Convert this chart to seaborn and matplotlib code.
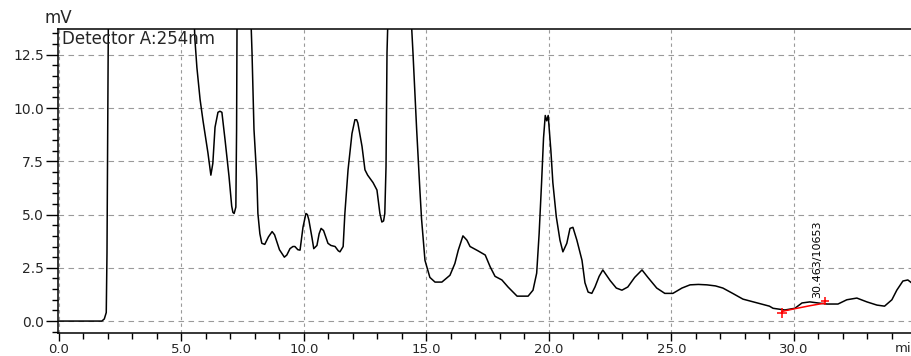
import numpy as np
import pandas as pd
import seaborn as sns
import matplotlib.pyplot as plt
from matplotlib.ticker import MultipleLocator, FormatStrFormatter

sns.set_style("white")
plt.rcParams['font.family'] = ['DejaVu Sans']

# chromatogram trace (min, mV); off-scale peaks are guesses
time_min = [0.0, 1.0, 1.75, 1.85, 1.93, 1.96, 1.99, 2.02, 2.1, 2.5, 3.5, 5.0, 5.45,
            5.55, 5.63, 5.76, 5.88, 5.96, 6.08, 6.2, 6.28, 6.37, 6.49, 6.57, 6.65,
            6.78, 6.94, 7.05, 7.1, 7.15, 7.22, 7.25, 7.27, 7.35, 7.6, 7.8, 7.84,
            7.88, 7.96, 8.08, 8.12, 8.2, 8.28, 8.4, 8.55, 8.7, 8.8, 9.0, 9.2, 9.3,
            9.43, 9.55, 9.63, 9.75, 9.84, 9.96, 10.08, 10.14, 10.2, 10.33, 10.4,
            10.53, 10.62, 10.7, 10.8, 10.98, 11.1, 11.27, 11.4, 11.47, 11.6, 11.67,
            11.8, 11.96, 12.08, 12.15, 12.2, 12.37, 12.49, 12.6, 12.82, 12.98, 13.1,
            13.18, 13.25, 13.3, 13.35, 13.39, 13.45, 13.6, 14.0, 14.35, 14.4, 14.45,
            14.6, 14.73, 14.8, 14.94, 15.14, 15.35, 15.63, 15.96, 16.16, 16.3,
            16.49, 16.65, 16.78, 17.1, 17.4, 17.6, 17.8, 18.08, 18.33, 18.7, 19.15,
            19.35, 19.5, 19.6, 19.7, 19.78, 19.85, 19.91, 19.97, 20.08, 20.16, 20.3,
            20.45, 20.57, 20.73, 20.86, 20.98, 21.14, 21.35, 21.47, 21.6, 21.75,
            21.88, 22.05, 22.2, 22.35, 22.5, 22.75, 22.98, 23.22, 23.5, 23.8, 24.04,
            24.4, 24.73, 25.06, 25.43, 25.76, 26.1, 26.45, 26.8, 27.1, 27.5, 27.92,
            28.5, 29.0, 29.15, 29.63, 30.04, 30.33, 30.65, 30.98, 31.35, 31.8,
            32.16, 32.57, 32.98, 33.39, 33.7, 34.0, 34.2, 34.45, 34.65, 34.8, 35.0]
signal_mv = [0.0, 0.0, 0.0, 0.1, 0.4, 3.2, 9.0, 15.0, 40.0, 60.0, 45.0, 30.0, 16.0,
             13.2, 11.9, 10.4, 9.4, 8.8, 7.9, 6.85, 7.4, 9.1, 9.8, 9.85, 9.8,
             8.5, 6.8, 5.4, 5.1, 5.05, 5.35, 9.0, 14.5, 40.0, 50.0, 20.0, 14.0,
             12.6, 9.0, 6.6, 5.05, 4.1, 3.65, 3.6, 3.95, 4.2, 4.05, 3.35, 3.0, 3.1,
             3.4, 3.5, 3.5, 3.35, 3.33, 4.4, 5.05, 5.0, 4.75, 3.9, 3.4,
             3.55, 4.1, 4.35, 4.25, 3.65, 3.55, 3.5, 3.3, 3.25, 3.5, 5.05,
             7.1, 8.8, 9.45, 9.45, 9.3, 8.2, 7.1, 6.85, 6.5, 6.15, 5.05,
             4.65, 4.7, 5.05, 7.25, 12.6, 15.0, 40.0, 60.0, 16.0, 13.7, 12.6,
             9.0, 6.2, 4.8, 2.85, 2.05, 1.83, 1.83, 2.15, 2.7, 3.33,
             4.0, 3.8, 3.5, 3.3, 3.1, 2.55, 2.1, 1.93, 1.6, 1.17, 1.17,
             1.45, 2.25, 4.1, 6.5, 8.6, 9.65, 9.4, 9.65, 8.0, 6.5, 4.9,
             3.8, 3.25, 3.65, 4.35, 4.4, 3.8, 2.85, 1.8, 1.36, 1.3,
             1.6, 2.1, 2.4, 2.15, 1.9, 1.55, 1.45, 1.6, 2.05, 2.4, 2.05,
             1.55, 1.3, 1.3, 1.55, 1.7, 1.72, 1.7, 1.65, 1.55, 1.3, 1.03,
             0.85, 0.7, 0.6, 0.52, 0.6, 0.85, 0.9, 0.85, 0.8, 0.8,
             1.0, 1.08, 0.9, 0.75, 0.7, 1.0, 1.45, 1.88, 1.93, 1.8, 1.6]

# integration baseline of the labelled peak
base_time = [29.5, 30.04, 30.65, 31.25]
base_mv = [0.45, 0.58, 0.72, 0.84]
peak_label = "30.463/10653"

df = pd.DataFrame({'t': time_min, 'mv': signal_mv})

fig = plt.figure(figsize=(9.11, 3.56), dpi=100)
ax = fig.add_axes([58 / 911, 23 / 356, 853 / 911, 304 / 356])

sns.lineplot(data=df, x='t', y='mv', ax=ax, color='black', lw=1.1,
             estimator=None, sort=False)
sns.lineplot(x=base_time, y=base_mv, ax=ax, color='red', lw=1.1,
             estimator=None, sort=False)
ax.plot(base_time[0], base_mv[0] - 0.08, marker='+', color='red', ms=7, mew=1.1)
ax.plot(base_time[-1], base_mv[-1] + 0.08, marker='+', color='red', ms=6, mew=1.1)
ax.text(30.94, 1.08, peak_label, rotation=90, ha='center', va='bottom',
        fontsize=8, color='black')

ax.set_xlim(-0.04, 34.78)
ax.set_ylim(-0.56, 13.71)
ax.xaxis.set_major_locator(MultipleLocator(5))
ax.xaxis.set_minor_locator(MultipleLocator(1))
ax.yaxis.set_major_locator(MultipleLocator(2.5))
ax.yaxis.set_minor_locator(MultipleLocator(0.5))
ax.xaxis.set_major_formatter(FormatStrFormatter('%.1f'))
ax.yaxis.set_major_formatter(FormatStrFormatter('%.1f'))
ax.tick_params(axis='x', which='major', direction='out', length=6, width=1,
               color='black', labelsize=9.5, pad=1, bottom=True)
ax.tick_params(axis='x', which='minor', direction='out', length=4, width=1,
               color='black', bottom=True)
ax.tick_params(axis='y', which='major', direction='out', length=9, width=1,
               color='black', labelsize=10, pad=1, left=True)
ax.tick_params(axis='y', which='minor', direction='out', length=4, width=1,
               color='black', left=True)

ax.grid(True, which='major', axis='y', color='#9a9a9a', lw=0.8, ls=(0, (5, 4)))
ax.grid(True, which='major', axis='x', color='#9a9a9a', lw=0.8, ls=(0, (3, 3)))
for side in ['left', 'bottom', 'top']:
    ax.spines[side].set_visible(True)
    ax.spines[side].set_color('black')
    ax.spines[side].set_linewidth(1.1)
ax.spines['right'].set_visible(False)
ax.set_xlabel('')
ax.set_ylabel('')

ax.text(0.005, 0.997, 'Detector A:254nm', transform=ax.transAxes,
        ha='left', va='top', fontsize=12)
fig.text(45 / 911, 1 - 18 / 356, 'mV', ha='left', va='center', fontsize=12)
fig.text(895 / 911, 1 - 348 / 356, 'min', ha='left', va='center', fontsize=9.5)

fig.savefig('out.png', dpi=100)
